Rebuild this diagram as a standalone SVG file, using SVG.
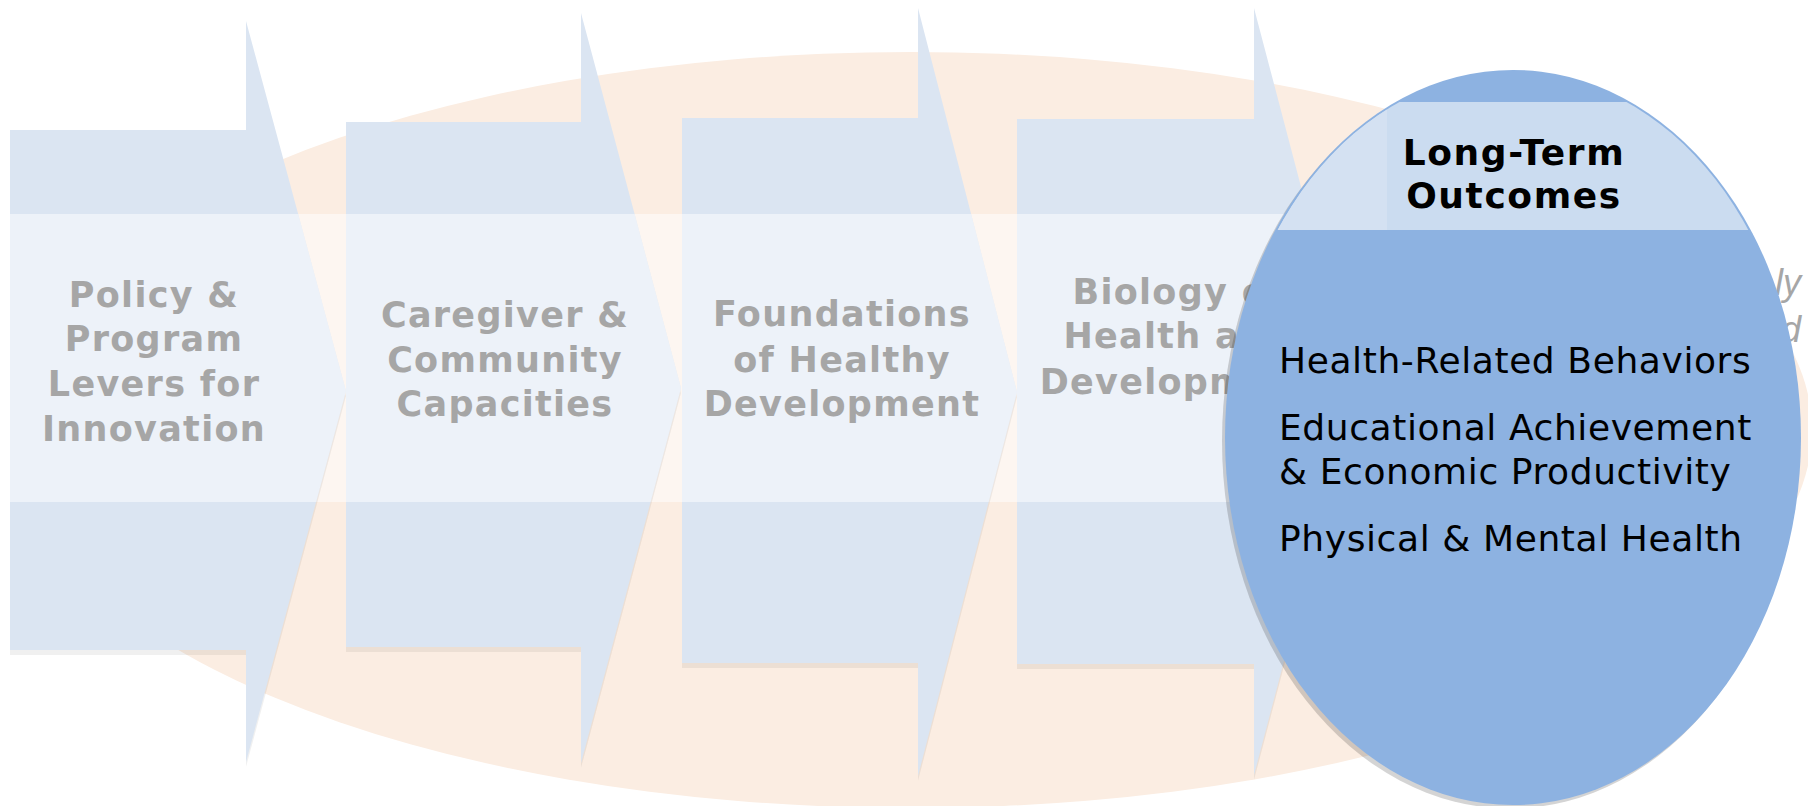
<svg xmlns="http://www.w3.org/2000/svg" width="1808" height="806" viewBox="0 0 1808 806">
<style>
.arrow{fill:#DBE5F2}
.shadow{fill:#000;opacity:0.06}
.band{fill:#FFFFFF;opacity:0.5}
.lbl{font-family:"DejaVu Sans","Verdana",sans-serif;font-weight:bold;font-size:35px;letter-spacing:1.3px;fill:#A6A6A6;text-anchor:middle}
.hdr{font-family:"DejaVu Sans","Verdana",sans-serif;font-weight:bold;font-size:36px;letter-spacing:1.6px;fill:#000;text-anchor:middle}
.out{font-family:"DejaVu Sans","Verdana",sans-serif;font-size:36px;letter-spacing:0.6px;fill:#000}
.ital{font-family:"Liberation Sans",Arial,sans-serif;font-style:italic;font-size:36px;fill:#A6A6A6;text-anchor:end}
</style>
<defs>
<clipPath id="c1"><path d="M10,130 H246 V21 L346,391 L246,762 V650 H10 Z"/></clipPath>
<clipPath id="c2"><path d="M346,122 H581 V13 L681,388 L581,763 V647 H346 Z"/></clipPath>
<clipPath id="c3"><path d="M682,118 H918 V8 L1017,392 L918,776 V663 H682 Z"/></clipPath>
<clipPath id="c4"><path d="M1017,119 H1254 V8 L1355,392 L1254,775 V664 H1017 Z"/></clipPath>
<clipPath id="circ"><ellipse cx="1513" cy="437.5" rx="286" ry="365.5"/></clipPath>
</defs>
<rect width="1808" height="806" fill="#FFFFFF"/>
<g id="background">
<ellipse cx="911" cy="430" rx="901" ry="378" fill="#FBEDE2"/>
<rect class="band" x="10" y="214" width="1290" height="288"/>
</g>
<g id="node-policy">
<path class="shadow" d="M10,135 H246 V26 L346,396 L246,767 V655 H10 Z"/>
<path class="arrow" d="M10,130 H246 V21 L346,391 L246,762 V650 H10 Z"/>
<rect class="band" x="0" y="214" width="1400" height="288" clip-path="url(#c1)"/>
<text class="lbl" x="154" y="307">Policy &amp;</text>
<text class="lbl" x="154" y="351">Program</text>
<text class="lbl" x="154" y="396">Levers for</text>
<text class="lbl" x="154" y="441">Innovation</text>
</g>
<g id="node-caregiver">
<path class="shadow" d="M346,127 H581 V18 L681,393 L581,768 V652 H346 Z"/>
<path class="arrow" d="M346,122 H581 V13 L681,388 L581,763 V647 H346 Z"/>
<rect class="band" x="0" y="214" width="1400" height="288" clip-path="url(#c2)"/>
<text class="lbl" x="505" y="327">Caregiver &amp;</text>
<text class="lbl" x="505" y="372">Community</text>
<text class="lbl" x="505" y="416">Capacities</text>
</g>
<g id="node-foundations">
<path class="shadow" d="M682,123 H918 V13 L1017,397 L918,781 V668 H682 Z"/>
<path class="arrow" d="M682,118 H918 V8 L1017,392 L918,776 V663 H682 Z"/>
<rect class="band" x="0" y="214" width="1400" height="288" clip-path="url(#c3)"/>
<text class="lbl" x="842" y="326">Foundations</text>
<text class="lbl" x="842" y="372">of Healthy</text>
<text class="lbl" x="842" y="416">Development</text>
</g>
<g id="node-biology">
<path class="shadow" d="M1017,124 H1254 V13 L1355,397 L1254,780 V669 H1017 Z"/>
<path class="arrow" d="M1017,119 H1254 V8 L1355,392 L1254,775 V664 H1017 Z"/>
<rect class="band" x="0" y="214" width="1400" height="288" clip-path="url(#c4)"/>
<text class="lbl" x="1178" y="304">Biology of</text>
<text class="lbl" x="1178" y="348">Health and</text>
<text class="lbl" x="1178" y="394">Development</text>
</g>
<g id="edge-text">
<text class="ital" x="1801" y="295">ly</text>
<text class="ital" x="1801" y="342">d</text>
</g>
<g id="connectors"></g>
<g id="node-outcomes">
<ellipse cx="1510" cy="441" rx="288" ry="367.5" fill="#000" opacity="0.17"/>
<ellipse cx="1513" cy="437.5" rx="288" ry="367.5" fill="#8DB2E1"/>
<g clip-path="url(#circ)">
<rect x="1200" y="102" width="620" height="128" fill="#CBDCF0"/>
<rect x="1200" y="102" width="187" height="128" fill="#D4E1F2"/>
</g>
<text class="hdr" x="1514" y="165">Long-Term</text>
<text class="hdr" x="1514" y="208">Outcomes</text>
<text class="out" x="1279" y="373">Health-Related Behaviors</text>
<text class="out" x="1279" y="440">Educational Achievement</text>
<text class="out" x="1279" y="484">&amp; Economic Productivity</text>
<text class="out" x="1279" y="551">Physical &amp; Mental Health</text>
</g>
</svg>
